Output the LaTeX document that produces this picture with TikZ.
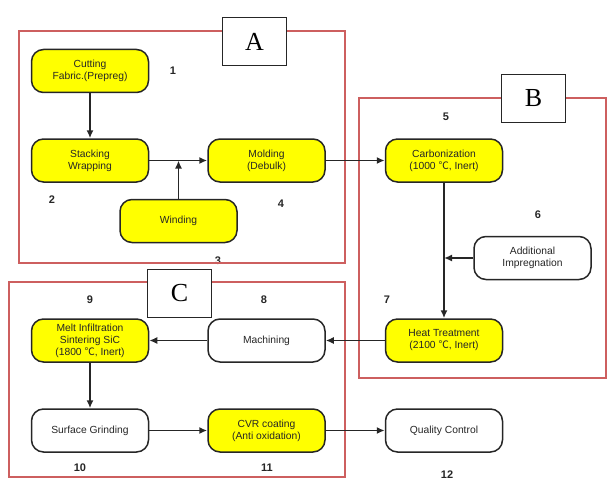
\documentclass[tikz,border=0pt]{standalone}
\usepackage{fontspec}
\setmainfont{Liberation Sans}
\newfontfamily\tagfont{Liberation Serif}
\newfontfamily\cjk{Noto Sans CJK SC}
\newcommand{\degc}{{\cjk ℃}}
\usetikzlibrary{arrows.meta}

\definecolor{framered}{RGB}{205,95,95}
\definecolor{boxyellow}{RGB}{255,255,0}

\begin{document}
\begin{tikzpicture}[x=1pt,y=-1pt,
    stepbox/.style={draw=black!85, line width=1.5pt, rounded corners=12pt,
        minimum width=117pt, minimum height=43pt, align=center, inner sep=2pt,
        text=black!85, font=\fontsize{10.3}{12}\selectfont},
    hot/.style={stepbox, fill=boxyellow},
    plain/.style={stepbox, fill=white},
    num/.style={font=\fontsize{11}{12}\selectfont\bfseries, text=black!85},
    frame/.style={draw=framered, line width=2.5pt},
    tag/.style={draw=black!85, fill=white, line width=0.9pt, minimum width=64pt,
        minimum height=48pt, inner sep=0pt, font=\tagfont\fontsize{26}{26}\selectfont},
    flow/.style={draw=black!85, line width=1.6pt, -{Latex[length=8pt,width=7pt]}}]
    \useasboundingbox (0,0) rectangle (608,487);

    % numbers
    \node[num] (n1) at (173,71) {1};
    \node[num] (n2) at (52,200) {2};
    \node[num] (n3) at (218,261) {3};
    \node[num] (n4) at (281,204) {4};
    \node[num] (n5) at (446,117) {5};
    \node[num] (n6) at (538,215) {6};
    \node[num] (n7) at (387,300) {7};
    \node[num] (n8) at (264,300) {8};
    \node[num] (n9) at (90,300) {9};
    \node[num] (n10) at (80,468) {10};
    \node[num] (n11) at (267,468) {11};
    \node[num] (n12) at (447,475) {12};

    % frames
    \draw[frame] (19,31) rectangle (345,263);
    \draw[frame] (359,98) rectangle (606,378);
    \draw[frame] (9,282) rectangle (345,477);
    \node[tag] (tA) at (254.5,41.5) {A};
    \node[tag] (tB) at (533.5,98) {B};
    \node[tag] (tC) at (179.5,293) {C};

    % steps
    \node[hot] (cut) at (90,71) {Cutting\\Fabric.(Prepreg)};
    \node[hot] (stack) at (90,160.5) {Stacking\\Wrapping};
    \node[hot] (wind) at (178.5,221) {Winding};
    \node[hot] (mold) at (266.5,160.5) {Molding\\(Debulk)};
    \node[hot] (carb) at (444,160.5) {Carbonization\\(1000 \degc, Inert)};
    \node[plain] (imp) at (532.5,258) {Additional\\Impregnation};
    \node[hot] (heat) at (444,340.5) {Heat Treatment\\(2100 \degc, Inert)};
    \node[plain] (mach) at (266.5,340.5) {Machining};
    \node[hot] (melt) at (90,340.5) {Melt Infiltration\\Sintering SiC\\(1800 \degc, Inert)};
    \node[plain] (grind) at (90,430.5) {Surface Grinding};
    \node[hot] (cvr) at (266.5,430.5) {CVR coating\\(Anti oxidation)};
    \node[plain] (qc) at (444,430.5) {Quality Control};

    % flow
    \draw[flow] (cut) -- (stack);
    \draw[flow] (stack) -- (mold);
    \draw[flow] (wind.north) -- (wind.north |- stack.east);
    \draw[flow] (mold) -- (carb);
    \draw[flow] (carb) -- (heat);
    \draw[flow] (imp.west) -- (carb.south |- imp.west);
    \draw[flow] (heat) -- (mach);
    \draw[flow] (mach) -- (melt);
    \draw[flow] (melt) -- (grind);
    \draw[flow] (grind) -- (cvr);
    \draw[flow] (cvr) -- (qc);
\end{tikzpicture}
\end{document}
